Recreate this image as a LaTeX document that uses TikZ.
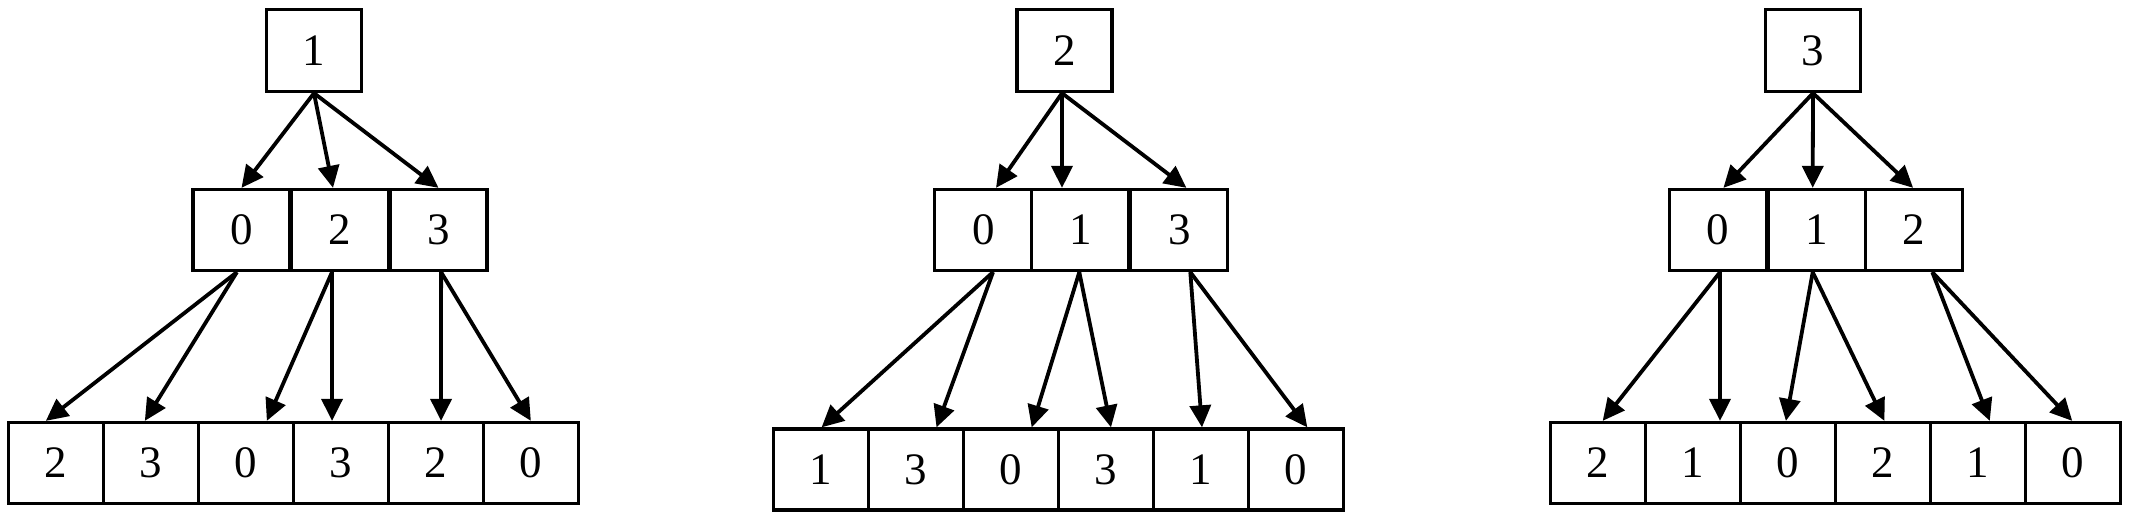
\documentclass[tikz,border=0pt]{standalone}
\usepackage{fontspec}
\setmainfont{Liberation Serif}
\usetikzlibrary{arrows.meta}
\tikzset{
  box/.style={draw, line width=1.65pt, inner sep=0pt, font=\fontsize{22.5}{26}\selectfont},
  topbox/.style={box, minimum width=47.5pt, minimum height=41pt},
  midbox/.style={box, minimum width=48.5pt, minimum height=40.5pt},
  botbox/.style={box, minimum width=47.5pt, minimum height=40.5pt},
  arr/.style={line width=1.9pt, -{Triangle[length=11pt,width=10.5pt]}}
}
\begin{document}
\begin{tikzpicture}[x=0.5pt,y=-0.5pt]
\useasboundingbox (0,0) rectangle (2131,520);
% ---------- tree 1 ----------
\node[topbox] (t1) at (314,50.5) {1};
\node[midbox] (m1a) at (241.5,230) {0};
\node[midbox] (m1b) at (340,230) {2};
\node[midbox] (m1c) at (438.5,230) {3};
\node[botbox] (b1a) at (55.85,463) {2};
\node[botbox] (b1b) at (150.85,463) {3};
\node[botbox] (b1c) at (245.85,463) {0};
\node[botbox] (b1d) at (340.85,463) {3};
\node[botbox] (b1e) at (435.85,463) {2};
\node[botbox] (b1f) at (530.85,463) {0};
\draw[arr] (t1.south) -- (m1a.north);
\draw[arr] (t1.south) -- ([xshift=-3.5pt]m1b.north);
\draw[arr] (t1.south) -- (m1c.north);
\draw[arr] ([xshift=-2.3pt]m1a.south) -- ([xshift=-5pt]b1a.north);
\draw[arr] ([xshift=-2.3pt]m1a.south) -- ([xshift=-3pt]b1b.north);
\draw[arr] ([xshift=-4pt]m1b.south) -- ([xshift=10.5pt]b1c.north);
\draw[arr] ([xshift=-4pt]m1b.south) -- ([xshift=-4.4pt]b1d.north);
\draw[arr] ([xshift=1.3pt]m1c.south) -- ([xshift=2.6pt]b1e.north);
\draw[arr] ([xshift=1.3pt]m1c.south) -- (b1f.north);
% ---------- tree 2 ----------
\node[topbox] (t2) at (1064.5,50.5) {2};
\node[midbox] (m2a) at (983.3,230) {0};
\node[midbox] (m2b) at (1080.3,230) {1};
\node[midbox] (m2c) at (1179.3,230) {3};
\node[botbox] (b2a) at (821,469.5) {1};
\node[botbox] (b2b) at (916,469.5) {3};
\node[botbox] (b2c) at (1011,469.5) {0};
\node[botbox] (b2d) at (1106,469.5) {3};
\node[botbox] (b2e) at (1201,469.5) {1};
\node[botbox] (b2f) at (1296,469.5) {0};
\draw[arr] ([xshift=-1.25pt]t2.south) -- ([xshift=6.35pt]m2a.north);
\draw[arr] ([xshift=-1.25pt]t2.south) -- ([xshift=-9.15pt]m2b.north);
\draw[arr] ([xshift=-1.25pt]t2.south) -- ([xshift=3.55pt]m2c.north);
\draw[arr] ([xshift=4.85pt]m2a.south) -- ([xshift=0.3pt]b2a.north);
\draw[arr] ([xshift=4.85pt]m2a.south) -- ([xshift=10.25pt]b2b.north);
\draw[arr] ([xshift=-0.5pt]m2b.south) -- ([xshift=10.35pt]b2c.north);
\draw[arr] ([xshift=-0.5pt]m2b.south) -- ([xshift=2.5pt]b2d.north);
\draw[arr] ([xshift=5.5pt]m2c.south) -- ([xshift=0.5pt]b2e.north);
\draw[arr] ([xshift=5.5pt]m2c.south) -- ([xshift=5.65pt]b2f.north);
% ---------- tree 3 ----------
\node[topbox] (t3) at (1813,50.5) {3};
\node[midbox] (m3a) at (1718,230) {0};
\node[midbox] (m3b) at (1817,230) {1};
\node[midbox] (m3c) at (1914,230) {2};
\node[botbox] (b3a) at (1598,463) {2};
\node[botbox] (b3b) at (1693,463) {1};
\node[botbox] (b3c) at (1788,463) {0};
\node[botbox] (b3d) at (1883,463) {2};
\node[botbox] (b3e) at (1978,463) {1};
\node[botbox] (b3f) at (2073,463) {0};
\draw[arr] (t3.south) -- ([xshift=2.7pt]m3a.north);
\draw[arr] (t3.south) -- ([xshift=-2.15pt]m3b.north);
\draw[arr] (t3.south) -- ([xshift=-0.45pt]m3c.north);
\draw[arr] ([xshift=1pt]m3a.south) -- ([xshift=2.35pt]b3a.north);
\draw[arr] ([xshift=1pt]m3a.south) -- ([xshift=13.5pt]b3b.north);
\draw[arr] ([xshift=-2.15pt]m3b.south) -- ([xshift=-1.05pt]b3c.north);
\draw[arr] ([xshift=-2.15pt]m3b.south) -- ([xshift=0.7pt]b3d.north);
\draw[arr] ([xshift=9.15pt]m3c.south) -- ([xshift=5.9pt]b3e.north);
\draw[arr] ([xshift=9.15pt]m3c.south) -- ([xshift=-0.4pt]b3f.north);
\end{tikzpicture}
\end{document}
